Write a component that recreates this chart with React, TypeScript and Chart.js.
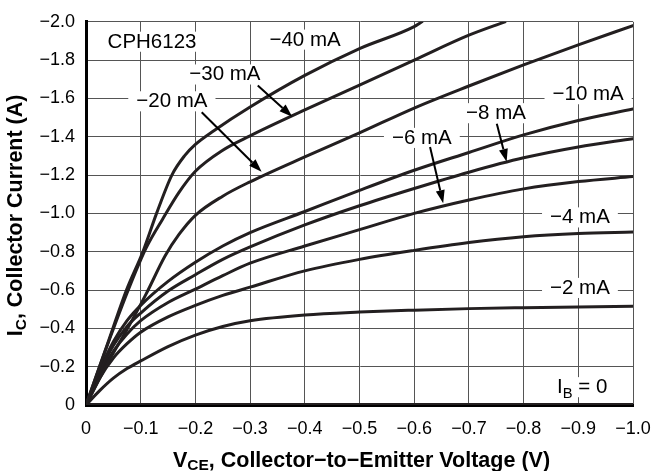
import React, { useEffect, useRef } from "react";
import { Chart, registerables } from "chart.js";

Chart.register(...registerables);

// ---- data (V, A) ----
const VCE_STEPS = [0, -0.025, -0.05, -0.075, -0.1, -0.15, -0.2, -0.25, -0.3, -0.4, -0.5, -0.6, -0.7, -0.8, -0.9, -1.0];
const IC_10MA = [0, -0.18, -0.33, -0.44, -0.52, -0.645, -0.745, -0.83, -0.9, -1.01, -1.12, -1.225, -1.318, -1.41, -1.485, -1.545];
const IC_8MA = [0, -0.17, -0.31, -0.41, -0.48, -0.595, -0.68, -0.76, -0.825, -0.94, -1.04, -1.13, -1.215, -1.29, -1.347, -1.39];
const IC_6MA = [0, -0.16, -0.28, -0.37, -0.44, -0.535, -0.605, -0.675, -0.74, -0.83, -0.915, -1.0, -1.07, -1.128, -1.166, -1.192];
const IC_4MA = [0, -0.14, -0.245, -0.32, -0.38, -0.46, -0.52, -0.572, -0.615, -0.7, -0.76, -0.807, -0.848, -0.878, -0.895, -0.903];
const IC_2MA = [0, -0.075, -0.14, -0.19, -0.23, -0.305, -0.365, -0.41, -0.44, -0.47, -0.485, -0.495, -0.503, -0.508, -0.512, -0.515];

const VCE_40MA = [0, -0.037, -0.074, -0.104, -0.129, -0.157, -0.18, -0.2, -0.233, -0.3, -0.4, -0.5, -0.6, -0.614];
const IC_40MA = [0, -0.3, -0.6, -0.8, -1.0, -1.2, -1.3, -1.36, -1.43, -1.555, -1.72, -1.86, -1.975, -2.0];

const VCE_30MA = [0, -0.04, -0.08, -0.11, -0.14, -0.17, -0.2, -0.25, -0.3, -0.4, -0.5, -0.6, -0.7, -0.766];
const IC_30MA = [0, -0.32, -0.62, -0.82, -0.97, -1.11, -1.22, -1.33, -1.405, -1.54, -1.67, -1.8, -1.93, -2.0];

const VCE_20MA = [0, -0.04, -0.08, -0.11, -0.145, -0.17, -0.2, -0.25, -0.3, -0.4, -0.5, -0.6, -0.7, -0.8, -0.9, -1.0];
const IC_20MA = [0, -0.22, -0.42, -0.58, -0.78, -0.89, -0.99, -1.09, -1.165, -1.295, -1.42, -1.55, -1.665, -1.775, -1.88, -1.98];

const VCE_IB0 = [0, -1.0];
const IC_IB0 = [0, 0];

// ---- ticks ----
const X_TICKS = [0, -0.1, -0.2, -0.3, -0.4, -0.5, -0.6, -0.7, -0.8, -0.9, -1.0];
const X_TICK_LABELS = ["0", "\u22120.1", "\u22120.2", "\u22120.3", "\u22120.4", "\u22120.5", "\u22120.6", "\u22120.7", "\u22120.8", "\u22120.9", "\u22121.0"];
const Y_TICKS = [0, -0.2, -0.4, -0.6, -0.8, -1.0, -1.2, -1.4, -1.6, -1.8, -2.0];
const Y_TICK_LABELS = ["0", "\u22120.2", "\u22120.4", "\u22120.6", "\u22120.8", "\u22121.0", "\u22121.2", "\u22121.4", "\u22121.6", "\u22121.8", "\u22122.0"];

// ---- annotations (data coordinates: centre x, baseline y) ----
type Seg = { t: string; sub?: boolean };
const LABELS: { segs: Seg[]; x: number; y: number }[] = [
  { segs: [{ t: "CPH6123" }], x: -0.1207, y: -1.865 },
  { segs: [{ t: "\u221240 mA" }], x: -0.4004, y: -1.876 },
  { segs: [{ t: "\u221230 mA" }], x: -0.254, y: -1.694 },
  { segs: [{ t: "\u221220 mA" }], x: -0.157, y: -1.554 },
  { segs: [{ t: "\u221210 mA" }], x: -0.918, y: -1.591 },
  { segs: [{ t: "\u22128 mA" }], x: -0.7495, y: -1.492 },
  { segs: [{ t: "\u22126 mA" }], x: -0.614, y: -1.363 },
  { segs: [{ t: "\u22124 mA" }], x: -0.903, y: -0.948 },
  { segs: [{ t: "\u22122 mA" }], x: -0.903, y: -0.58 },
  { segs: [{ t: "I" }, { t: "B", sub: true }, { t: " = 0" }], x: -0.907, y: -0.062 },
];
const ARROWS = [
  { x0: -0.314, y0: -1.668, x1: -0.377, y1: -1.505 },
  { x0: -0.2115, y0: -1.528, x1: -0.321, y1: -1.218 },
  { x0: -0.751, y0: -1.468, x1: -0.769, y1: -1.269 },
  { x0: -0.629, y0: -1.347, x1: -0.653, y1: -1.053 },
];
const X_TITLE: Seg[] = [{ t: "V" }, { t: "CE", sub: true }, { t: ", Collector\u2212to\u2212Emitter Voltage (V)" }];
const Y_TITLE: Seg[] = [{ t: "I" }, { t: "C", sub: true }, { t: ", Collector Current (A)" }];

const FAMILY = "'Liberation Sans', Arial, Helvetica, sans-serif";
const INK = "#231f20";

function richWidth(ctx: CanvasRenderingContext2D, segs: Seg[], size: number, bold: boolean) {
  let w = 0;
  for (const s of segs) {
    const fs = s.sub ? size * 0.72 : size;
    ctx.font = `${bold ? "bold " : ""}${fs}px ${FAMILY}`;
    w += ctx.measureText(s.t).width;
  }
  return w;
}
function drawRich(ctx: CanvasRenderingContext2D, segs: Seg[], cx: number, by: number, size: number, bold: boolean, subDrop = 0.22) {
  const w = richWidth(ctx, segs, size, bold);
  let x = cx - w / 2;
  ctx.textAlign = "left";
  ctx.textBaseline = "alphabetic";
  for (const s of segs) {
    const fs = s.sub ? size * 0.72 : size;
    ctx.font = `${bold ? "bold " : ""}${fs}px ${FAMILY}`;
    ctx.fillText(s.t, x, s.sub ? by + size * subDrop : by);
    x += ctx.measureText(s.t).width;
  }
  return w;
}

const overlay = {
  id: "overlay",
  afterDatasetsDraw(chart: any) {
    const { ctx, scales } = chart;
    const xs = scales.x, ys = scales.y;
    ctx.save();
    const size = 20.5;
    for (const l of LABELS) {
      const cx = xs.getPixelForValue(l.x);
      const by = ys.getPixelForValue(l.y);
      const w = richWidth(ctx, l.segs, size, false);
      ctx.fillStyle = "#fff";
      ctx.fillRect(cx - w / 2 - 8, by - size * 0.78, w + 16, size * 0.98);
      ctx.fillStyle = "#000";
      drawRich(ctx, l.segs, cx, by, size, false);
    }
    ctx.strokeStyle = "#000";
    ctx.fillStyle = "#000";
    ctx.lineWidth = 2;
    for (const a of ARROWS) {
      const x0 = xs.getPixelForValue(a.x0), y0 = ys.getPixelForValue(a.y0);
      const x1 = xs.getPixelForValue(a.x1), y1 = ys.getPixelForValue(a.y1);
      const ang = Math.atan2(y1 - y0, x1 - x0);
      const hl = 13, hw = 4.5;
      const bx = x1 - hl * Math.cos(ang), by2 = y1 - hl * Math.sin(ang);
      ctx.beginPath();
      ctx.moveTo(x0, y0);
      ctx.lineTo(bx, by2);
      ctx.stroke();
      ctx.beginPath();
      ctx.moveTo(x1, y1);
      ctx.lineTo(bx + hw * Math.sin(ang), by2 - hw * Math.cos(ang));
      ctx.lineTo(bx - hw * Math.sin(ang), by2 + hw * Math.cos(ang));
      ctx.closePath();
      ctx.fill();
    }
    ctx.restore();
  },
  afterDraw(chart: any) {
    const { ctx, chartArea } = chart;
    ctx.save();
    ctx.fillStyle = "#000";
    const cx = (chartArea.left + chartArea.right) / 2;
    drawRich(ctx, X_TITLE, cx + 2, 467, 21.5, true, 0.15);
    ctx.translate(22, (chartArea.top + chartArea.bottom) / 2 + 2);
    ctx.rotate(-Math.PI / 2);
    drawRich(ctx, Y_TITLE, 0, 0, 21.5, true, 0.18);
    ctx.restore();
  },
};

function pts(xv: number[], yv: number[]) {
  return xv.map((v, i) => ({ x: v, y: yv[i] }));
}

function findLabel(vals: number[], labels: string[], v: number) {
  const i = vals.findIndex((t) => Math.abs(t - v) < 1e-6);
  return i >= 0 ? labels[i] : "";
}

export default function App() {
  const ref = useRef<HTMLCanvasElement | null>(null);
  useEffect(() => {
    if (!ref.current) return;
    const curve = (data: any[], width = 3) => ({
      data,
      borderColor: INK,
      borderWidth: width,
      pointRadius: 0,
      fill: false,
      cubicInterpolationMode: "monotone" as const,
      borderCapStyle: "round" as const,
      borderJoinStyle: "round" as const,
    });
    const chart = new Chart(ref.current, {
      type: "line",
      data: {
        datasets: [
          curve(pts(VCE_40MA, IC_40MA)),
          curve(pts(VCE_30MA, IC_30MA)),
          curve(pts(VCE_20MA, IC_20MA)),
          curve(pts(VCE_STEPS, IC_10MA)),
          curve(pts(VCE_STEPS, IC_8MA)),
          curve(pts(VCE_STEPS, IC_6MA)),
          curve(pts(VCE_STEPS, IC_4MA)),
          curve(pts(VCE_STEPS, IC_2MA)),
          curve(pts(VCE_IB0, IC_IB0), 4),
        ],
      },
      options: {
        animation: false,
        responsive: false,
        maintainAspectRatio: false,
        devicePixelRatio: 1,
        layout: { padding: { left: 0, top: 19, right: 18, bottom: 0 } },
        plugins: { legend: { display: false }, tooltip: { enabled: false } },
        scales: {
          x: {
            type: "linear",
            min: -1,
            max: 0,
            reverse: true,
            afterBuildTicks: (s: any) => {
              s.ticks = [...X_TICKS].sort((a, b) => a - b).map((v) => ({ value: v }));
            },
            afterFit: (s: any) => {
              s.height = 66;
            },
            ticks: {
              autoSkip: false,
              maxRotation: 0,
              padding: 13,
              color: "#000",
              font: { size: 18, family: FAMILY },
              callback: (v: any) => findLabel(X_TICKS, X_TICK_LABELS, Number(v)),
            },
            grid: { color: "#555", lineWidth: 1, drawTicks: false },
            border: { display: true, color: "#000", width: 3 },
          },
          y: {
            type: "linear",
            min: -2,
            max: 0,
            reverse: true,
            afterBuildTicks: (s: any) => {
              s.ticks = [...Y_TICKS].sort((a, b) => a - b).map((v) => ({ value: v }));
            },
            afterFit: (s: any) => {
              s.width = 86;
            },
            ticks: {
              autoSkip: false,
              padding: 11,
              color: "#000",
              font: { size: 18, family: FAMILY },
              callback: (v: any) => findLabel(Y_TICKS, Y_TICK_LABELS, Number(v)),
            },
            grid: { color: "#555", lineWidth: 1, drawTicks: false },
            border: { display: true, color: "#000", width: 3 },
          },
        },
      },
      plugins: [overlay],
    });
    return () => chart.destroy();
  }, []);
  return (
    <div style={{ position: "fixed", left: 0, top: 0, width: 651, height: 471, background: "#fff" }}>
      <canvas ref={ref} width={651} height={471} style={{ width: 651, height: 471, display: "block" }} />
    </div>
  );
}
